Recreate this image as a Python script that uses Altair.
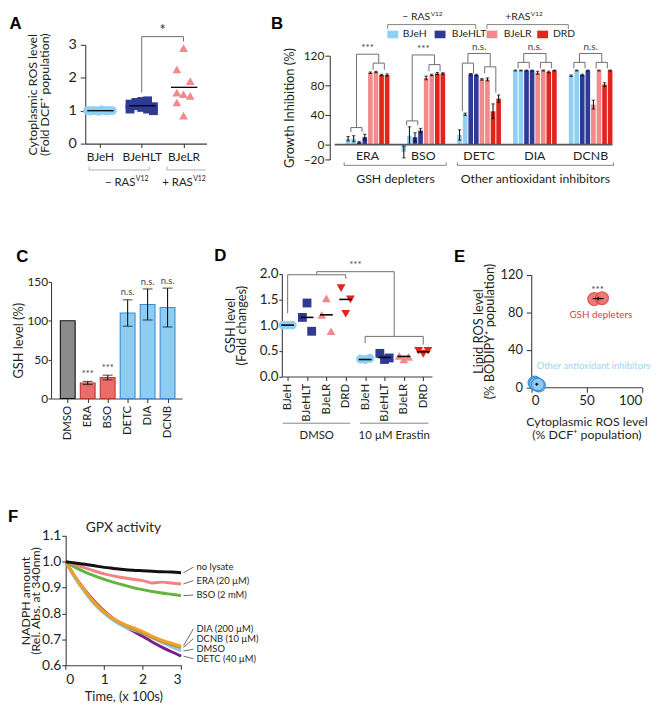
import altair as alt
import pandas as pd

FONT = "Lato"
LFONT = "Liberation Sans"
INK = "#231f20"
AXC = "#3c3c3c"
BRK = "#6f6f6f"
LIGHT = "#8fd0f4"
DARK = "#2e3a93"
PINK = "#f28a8c"
RED = "#e3241c"

# ---------------- Panel A data ----------------
a_cells = ["BJeH", "BJeHLT", "BJeLR"]
a_bjeh = [1.0, 0.99, 1.01, 1.0, 0.98, 1.02, 1.0, 0.99, 1.01, 1.0]
a_bjehlt = [1.05, 1.25, 1.1, 1.3, 1.0, 1.2, 1.15, 1.28, 1.05, 1.12]
a_bjelr = [2.25, 2.9, 1.9, 1.55, 1.5, 1.45, 1.25, 0.85]
a_mean = [1.0, 1.15, 1.71]
a_ticks = [0, 1, 2, 3]

# ---------------- Panel B data ----------------
b_drugs = ["ERA", "BSO", "DETC", "DIA", "DCNB"]
b_lines = ["BJeH", "BJeHLT", "BJeLR", "DRD"]
b_era = [8, 8, 3, 10, 97, 98, 94, 94]
b_era_err = [3, 4, 1, 4, 1, 1, 1, 1.5]
b_bso = [-10, 12, 10, 19, 90, 94, 96, 96]
b_bso_err = [8, 12, 6, 3, 2.5, 1, 1.5, 1]
b_detc = [13, 41, 95, 94, 88, 88, 45, 62]
b_detc_err = [7, 1.5, 1, 1, 1, 2, 10, 5]
b_dia = [100, 100, 100, 100, 97, 100, 98, 100]
b_dia_err = [0.6, 0.6, 0.6, 0.6, 2, 0.6, 1.2, 0.6]
b_dcnb = [93, 100, 94, 100, 54, 100, 81, 100]
b_dcnb_err = [1, 0.6, 1, 0.6, 6, 0.6, 2.5, 0.6]
b_sig = ["***", "***", "n.s.", "n.s.", "n.s."]
b_ticks = [-20, 0, 40, 80, 120]

# ---------------- Panel C data ----------------
c_treat = ["DMSO", "ERA", "BSO", "DETC", "DIA", "DCNB"]
c_kind = ["control", "depleter", "depleter", "other", "other", "other"]
c_vals = [100, 20, 27, 110, 121, 117]
c_err = [0, 2, 3, 17, 20, 25]
c_sig = ["", "***", "***", "n.s.", "n.s.", "n.s."]
c_ticks = [0, 50, 100, 150]

# ---------------- Panel D data ----------------
d_cells = ["BJeH", "BJeHLT", "BJeLR", "DRD", "BJeH", "BJeHLT", "BJeLR", "DRD"]
d_dmso_bjeh = [1.0, 1.0, 1.0]
d_dmso_bjehlt = [1.15, 1.43, 0.88]
d_dmso_bjelr = [1.2, 1.52, 0.88]
d_dmso_drd = [1.72, 1.22, 1.5]
d_era_bjeh = [0.34, 0.33, 0.35]
d_era_bjehlt = [0.45, 0.33, 0.36]
d_era_bjelr = [0.4, 0.33, 0.38]
d_era_drd = [0.5, 0.44, 0.5]
d_mean = [1.0, 1.15, 1.2, 1.5, 0.33, 0.37, 0.39, 0.48]
d_ticks = [0, 0.5, 1.0, 1.5, 2.0]

# ---------------- Panel E data ----------------
e_gsh_x = [57, 64]
e_gsh_y = [94, 95]
e_oth_x = [3, 5, 7, 4, 6]
e_oth_y = [5, 3, 2, 4, 3]

# ---------------- Panel F data ----------------
f_t = [0, 0.25, 0.5, 0.75, 1.0, 1.25, 1.5, 1.75, 2.0, 2.25, 2.5, 2.75, 3.0]
f_nolysate = [1.0, 0.995, 0.99, 0.984, 0.978, 0.974, 0.97, 0.967, 0.965, 0.963, 0.961, 0.96, 0.957]
f_era = [1.0, 0.988, 0.976, 0.964, 0.953, 0.945, 0.938, 0.932, 0.927, 0.918, 0.921, 0.918, 0.914]
f_bso = [1.0, 0.978, 0.96, 0.945, 0.932, 0.92, 0.91, 0.9, 0.892, 0.885, 0.879, 0.874, 0.869]
f_dia = [1.0, 0.94, 0.888, 0.842, 0.806, 0.78, 0.76, 0.745, 0.73, 0.712, 0.697, 0.685, 0.674]
f_dcnb = [1.0, 0.94, 0.887, 0.841, 0.805, 0.778, 0.757, 0.74, 0.725, 0.708, 0.692, 0.68, 0.668]
f_dmso = [1.0, 0.935, 0.882, 0.836, 0.8, 0.772, 0.75, 0.737, 0.724, 0.706, 0.688, 0.671, 0.655]
f_detc = [1.0, 0.94, 0.89, 0.846, 0.809, 0.779, 0.753, 0.732, 0.712, 0.69, 0.67, 0.652, 0.635]
f_names = ["no lysate", "ERA (20 µM)", "BSO (2 mM)", "DIA (200 µM)", "DCNB (10 µM)", "DMSO", "DETC (40 µM)"]
f_ticks_x = [0, 1, 2, 3]
f_ticks_y = [0.6, 0.7, 0.8, 0.9, 1.0, 1.1]

# ---------------- canvas layout (one shared plot area, each panel gets its own scale ranges) ----------------
W, H = 660, 699
ROW_SHIFT = {1: 0, 2: -7, 3: -15}


def px(v):
    return (v - 2) * 0.99


def py(v, row):
    return v + ROW_SHIFT[row]


def xscale(dom, r0, r1):
    return alt.Scale(domain=dom, range=[px(r0), px(r1)], nice=False, zero=False)


def yscale(dom, r0, r1, row):
    return alt.Scale(domain=dom, range=[py(r0, row), py(r1, row)], nice=False, zero=False)


def left_axis(at, r0, r1, row, title_dx, **kw):
    # title centred title_dx pixels left of the axis line, vertically centred on the panel
    return alt.Axis(orient="left", offset=-px(at), titleX=title_dx * 0.99,
                    titleY=(py(r0, row) + py(r1, row)) / 2, titleAngle=270, titleAlign="center",
                    titleBaseline="middle", **kw)


def bottom_axis(at, row, **kw):
    return alt.Axis(orient="bottom", offset=py(at, row) - H, **kw)


# ---------------- helpers ----------------
def enc(scale, axis):
    def make_x(field):
        return alt.X(field, type="quantitative", scale=scale, axis=axis)
    return make_x


def ency(scale, axis):
    def make_y(field):
        return alt.Y(field, type="quantitative", scale=scale, axis=axis)
    return make_y


def seg_layer(seg_list, X, Y, color=BRK, width=1.0):
    df = pd.DataFrame(seg_list, columns=["x", "y", "x2", "y2"])
    return alt.Chart(df).mark_rule(color=color, strokeWidth=width).encode(
        x=X("x"), y=Y("y"), x2="x2:Q", y2="y2:Q")


def text_layer(items, X, Y, **mk):
    df = pd.DataFrame(items, columns=["x", "y", "t"])
    opts = dict(font=FONT)
    opts.update(mk)
    return alt.Chart(df).mark_text(**opts).encode(x=X("x"), y=Y("y"), text="t:N")


def letter(t, x, y, X, Y):
    return text_layer([(x, y, t)], X, Y, font=LFONT, fontSize=17, fontWeight="bold", align="left",
                      baseline="middle", color="#000")


def lbl_expr(names):
    return "[" + ",".join("'" + n + "'" for n in names) + "][datum.value]"


# ================= Panel A =================
AX = enc(xscale([-0.35, 2.55], 81, 205),
         bottom_axis(133, 1, values=[0, 1, 2], labelExpr=lbl_expr(a_cells), title=None,
                     labelFontSize=12, tickSize=4, labelPadding=4))
AY = ency(yscale([0, 3], 133, 33, 1),
          left_axis(81, 133, 33, 1, -53.5, values=a_ticks, title=["Cytoplasmic ROS level", "(Fold DCF⁺ population)"],
                    labelFontSize=14.5, titleFontSize=12.5, titleLineHeight=11.6, tickSize=5, labelPadding=4))
a_rows = []
for ci, (vals, step, width) in enumerate(zip([a_bjeh, a_bjehlt, a_bjelr], [0.066, 0.14, 0.16], [10, 5, 3])):
    for i, v in enumerate(vals):
        a_rows.append({"cell": a_cells[ci], "x": ci + ((i % width) - (width - 1) / 2) * step, "y": v})
a_df = pd.DataFrame(a_rows)
a_pts = alt.Chart(a_df).mark_point(filled=True, opacity=1, size=80).encode(
    x=AX("x"), y=AY("y"),
    shape=alt.Shape("cell:N", scale=alt.Scale(domain=a_cells, range=["circle", "square", "triangle-up"]), legend=None),
    color=alt.Color("cell:N", scale=alt.Scale(domain=a_cells, range=[LIGHT, DARK, PINK]), legend=None),
)
a_means = seg_layer([(i - 0.3, m, i + 0.33, m) for i, m in enumerate(a_mean)], AX, AY, color="#000", width=1.3)
a_sig = seg_layer([(1, 1.55, 1, 3.25), (1, 3.25, 2, 3.25), (2, 3.25, 2, 3.1)], AX, AY)
a_star = text_layer([(1.5, 3.45, "*")], AX, AY, fontSize=15, color="#333")
a_ras = seg_layer([(-0.257, -0.8, 1.178, -0.8), (-0.257, -0.8, -0.257, -0.7), (1.178, -0.8, 1.178, -0.7),
                   (1.603, -0.8, 2.53, -0.8), (1.603, -0.8, 1.603, -0.7)], AX, AY, color="#9a9a9a", width=0.8)
a_ras_t = text_layer([(0.85, -1.2, "− RAS"), (2.22, -1.2, "+ RAS")], AX, AY, fontSize=11.5, align="right",
                     baseline="middle", color=INK)
a_ras_s = text_layer([(0.86, -1.2, "V12"), (2.23, -1.2, "V12")], AX, AY, fontSize=7, align="left",
                     baseline="middle", dy=-4, color=INK)
a_let = letter("A", -2.164, 3.62, AX, AY)
panelA = alt.layer(a_pts, a_means, a_sig, a_star, a_ras, a_ras_t, a_ras_s, a_let)

# ================= Panel B =================
BX = enc(xscale([-2.4, 47.4], 331, 625), None)
BY = ency(yscale([-20, 120], 149, 44, 1),
          left_axis(331, 149, 44, 1, -41, values=b_ticks, title="Growth Inhibition (%)",
                    labelFontSize=12, titleFontSize=13, tickSize=5, labelPadding=1))
b_color = alt.Color("line:N", scale=alt.Scale(domain=b_lines, range=[LIGHT, DARK, PINK, RED]), legend=None)
b_rows = []
for gi, (vals, errs) in enumerate(zip([b_era, b_bso, b_detc, b_dia, b_dcnb],
                                      [b_era_err, b_bso_err, b_detc_err, b_dia_err, b_dcnb_err])):
    for s in range(8):
        b_rows.append({"x": gi * 10 + s, "line": b_lines[s // 2], "y": vals[s],
                       "lo": vals[s] - errs[s], "hi": vals[s] + errs[s]})
b_df = pd.DataFrame(b_rows)
b_bars = alt.Chart(b_df).mark_bar(size=4.7).encode(x=BX("x"), y=BY("y"), y2=alt.datum(0), color=b_color)
b_err = alt.Chart(b_df).mark_rule(color="#000", strokeWidth=1).encode(x=BX("x"), y=BY("lo"), y2="hi:Q")
b_cap_lo = alt.Chart(b_df).mark_tick(color="#000", orient="horizontal", size=3.5, thickness=1).encode(
    x=BX("x"), y=BY("lo"))
b_cap_hi = alt.Chart(b_df).mark_tick(color="#000", orient="horizontal", size=3.5, thickness=1).encode(
    x=BX("x"), y=BY("hi"))
# significance brackets: [left comb, left legs, right comb, right legs, top]
b_brackets = [
    [23, 17, 17, 110, 101, 101, 122],
    [32, 26, 26, 108, 99, 99, 121],
    [110, 45, 96, 105, 96, 70, 123],
    [111, 103, 103, 111, 103, 103, 123],
    [111, 103, 103, 111, 103, 103, 123],
]
b_segs = []
b_sig_t = []
for gi, (hl, l1, l2, hr, r1, r2, top) in enumerate(b_brackets):
    b0 = gi * 10
    b_segs += [(b0 + 0.5, hl, b0 + 2.5, hl), (b0 + 0.5, hl, b0 + 0.5, l1), (b0 + 2.5, hl, b0 + 2.5, l2),
               (b0 + 1.5, hl, b0 + 1.5, top),
               (b0 + 4.5, hr, b0 + 6.5, hr), (b0 + 4.5, hr, b0 + 4.5, r1), (b0 + 6.5, hr, b0 + 6.5, r2),
               (b0 + 5.5, hr, b0 + 5.5, top), (b0 + 1.5, top, b0 + 5.5, top)]
    b_sig_t.append((b0 + 3.5, top + 2, b_sig[gi]))
b_brk = seg_layer(b_segs, BX, BY)
b_sigtxt = text_layer(b_sig_t, BX, BY, fontSize=10, baseline="bottom", color="#444")
b_zero = seg_layer([(-2.4, 0, 47.4, 0)], BX, BY, color="#555", width=1.6)
b_grp = text_layer([(gi * 10 + 3.5, -15, d) for gi, d in enumerate(b_drugs)], BX, BY, fontSize=12.5,
                   baseline="middle", color=INK)
b_cls = seg_layer([(-0.7, -28, 17.6, -28), (-0.7, -28, -0.7, -24), (17.6, -28, 17.6, -24),
                   (19.6, -28, 47.6, -28), (19.6, -28, 19.6, -24), (47.6, -28, 47.6, -24)],
                  BX, BY, color="#777", width=0.9)
b_cls_t = text_layer([(8.5, -47, "GSH depleters"), (33.6, -47, "Other antioxidant inhibitors")], BX, BY,
                     fontSize=12.5, baseline="middle", color=INK)
b_ras = seg_layer([(7.1, 162, 22.9, 162), (7.1, 162, 7.1, 156), (22.9, 162, 22.9, 156),
                   (24.9, 162, 39.5, 162), (24.9, 162, 24.9, 156), (39.5, 162, 39.5, 156)],
                  BX, BY, color="#777", width=0.9)
b_ras_t = text_layer([(14.72, 172, "− RAS"), (32.68, 172, "+RAS")], BX, BY, fontSize=10.5, align="right",
                     baseline="middle", color=INK)
b_ras_s = text_layer([(14.82, 172, "V12"), (32.78, 172, "V12")], BX, BY, fontSize=6.5, align="left",
                     baseline="middle", dy=-3.5, color=INK)
b_leg_df = pd.DataFrame({"line": b_lines, "x": [8.02, 16.5, 25.8, 34.9], "tx": [9.8, 18.6, 27.9, 36.75],
                         "y": [148.7] * 4})
b_leg_sym = alt.Chart(b_leg_df).mark_point(shape="M-1,-0.7H1V0.7H-1Z", filled=True, opacity=1, size=121).encode(
    x=BX("x"), y=BY("y"), color=b_color)
b_leg_txt = alt.Chart(b_leg_df).mark_text(font=FONT, fontSize=10.5, align="left", baseline="middle",
                                          color=INK).encode(x=BX("tx"), y=BY("y"), text="line:N")
b_let = letter("B", -13.84, 162.7, BX, BY)
panelB = alt.layer(b_bars, b_err, b_cap_lo, b_cap_hi, b_brk, b_sigtxt, b_zero, b_grp, b_cls, b_cls_t,
                   b_ras, b_ras_t, b_ras_s, b_leg_sym, b_leg_txt, b_let)

# ================= Panel C =================
CX = enc(xscale([-0.59, 5.48], 46, 180),
         bottom_axis(398, 2, values=list(range(6)), labelExpr=lbl_expr(c_treat), title=None, labelAngle=270,
                     labelAlign="right", labelBaseline="middle", labelFontSize=11.5, tickSize=4, labelPadding=3))
CY = ency(yscale([0, 150], 398, 280, 2),
          left_axis(46, 398, 280, 2, -33, values=c_ticks, title="GSH level (%)", labelFontSize=12,
                    titleFontSize=13, tickSize=3, labelPadding=0.5))
c_df = pd.DataFrame({"x": list(range(6)), "kind": c_kind, "y": c_vals,
                     "lo": [v - e for v, e in zip(c_vals, c_err)],
                     "hi": [v + e for v, e in zip(c_vals, c_err)], "sig": c_sig,
                     "sy": [v + e + 3 for v, e in zip(c_vals, c_err)]})
kinds = ["control", "depleter", "other"]
c_bars = alt.Chart(c_df).mark_bar(size=15, strokeWidth=1.1).encode(
    x=CX("x"), y=CY("y"), y2=alt.datum(0),
    fill=alt.Fill("kind:N", scale=alt.Scale(domain=kinds, range=["#8c8b8b", "#ee6b6b", "#8ecdf2"]), legend=None),
    stroke=alt.Stroke("kind:N", scale=alt.Scale(domain=kinds, range=["#111111", "#c0392f", "#3b8fd0"]), legend=None),
)
c_e = c_df[c_df["lo"] < c_df["hi"]]
c_err_r = alt.Chart(c_e).mark_rule(color="#111", strokeWidth=1.1).encode(x=CX("x"), y=CY("lo"), y2="hi:Q")
c_cap_lo = alt.Chart(c_e).mark_tick(color="#111", orient="horizontal", size=10, thickness=1.1).encode(
    x=CX("x"), y=CY("lo"))
c_cap_hi = alt.Chart(c_e).mark_tick(color="#111", orient="horizontal", size=10, thickness=1.1).encode(
    x=CX("x"), y=CY("hi"))
c_sigt = alt.Chart(c_e).mark_text(font=FONT, fontSize=9.5, baseline="bottom", color="#444").encode(
    x=CX("x"), y=CY("sy"), text="sig:N")
c_let = letter("C", -2.583, 181.4, CX, CY)
panelC = alt.layer(c_bars, c_err_r, c_cap_lo, c_cap_hi, c_sigt, c_let)

# ================= Panel D =================
DX = enc(xscale([-0.3, 7.45], 282, 435.5),
         bottom_axis(375.7, 2, values=list(range(8)), labelExpr=lbl_expr(d_cells), title=None,
                     labelAngle=270, labelFontSize=11.5, tickSize=4, labelPadding=3,
                     labelAlign="right", labelBaseline="middle"))
DY = ency(yscale([0, 2], 375.7, 271.7, 2),
          left_axis(282, 375.7, 271.7, 2, -52, values=d_ticks, format=".1f", title=["GSH level", "(Fold changes)"],
                    labelFontSize=13.5, titleFontSize=13, titleLineHeight=10.5, tickSize=3, labelPadding=1))
d_groups = [d_dmso_bjeh, d_dmso_bjehlt, d_dmso_bjelr, d_dmso_drd, d_era_bjeh, d_era_bjehlt, d_era_bjelr, d_era_drd]
d_rows = []
for ci, vals in enumerate(d_groups):
    for i, v in enumerate(vals):
        d_rows.append({"cell": d_cells[ci], "x": ci + ((i % 3) - 1) * 0.24, "y": v})
d_df = pd.DataFrame(d_rows)
d_sh = ["BJeH", "BJeHLT", "BJeLR", "DRD"]
d_pts = alt.Chart(d_df).mark_point(filled=True, opacity=1, size=80).encode(
    x=DX("x"), y=DY("y"),
    shape=alt.Shape("cell:N", scale=alt.Scale(domain=d_sh, range=["circle", "square", "triangle-up", "triangle-down"]),
                    legend=None),
    color=alt.Color("cell:N", scale=alt.Scale(domain=d_sh, range=[LIGHT, DARK, PINK, RED]), legend=None),
)
d_means = seg_layer([(i - 0.33, m, i + 0.33, m) for i, m in enumerate(d_mean)], DX, DY, color="#000", width=1.6)
d_brk = seg_layer([(0, 1.23, 0, 1.98), (0, 1.98, 3, 1.98), (3, 1.98, 3, 1.9), (1.5, 1.98, 1.5, 2.04),
                   (1.5, 2.04, 5.5, 2.04), (5.5, 2.04, 5.5, 0.78), (4, 0.78, 7, 0.78), (4, 0.78, 4, 0.65),
                   (7, 0.78, 7, 0.62)], DX, DY)
d_star = text_layer([(3.5, 2.07, "***")], DX, DY, fontSize=10, baseline="bottom", color="#555")
d_under = seg_layer([(-0.25, -0.91, 3.23, -0.91), (3.74, -0.91, 7.27, -0.91)], DX, DY, color="#777", width=0.9)
d_under_t = text_layer([(1.5, -1.15, "DMSO"), (5.5, -1.15, "10 µM Erastin")], DX, DY, fontSize=11.5,
                       baseline="middle", color=INK)
d_let = letter("D", -3.783, 2.346, DX, DY)
panelD = alt.layer(d_pts, d_means, d_brk, d_star, d_under, d_under_t, d_let)

# ================= Panel E =================
EX = enc(xscale([0, 100], 537, 650),
         bottom_axis(386.7, 2, values=[0, 50, 100], title=["Cytoplasmic ROS level", "(% DCF⁺ population)"],
                     labelFontSize=13.5, titleFontSize=12.5, titleLineHeight=13.5, tickSize=5, labelPadding=1,
                     titleX=(px(537) + px(650)) / 2, titleY=34.8, titleAlign="center", titleBaseline="middle"))
EY = ency(yscale([0, 120], 386.7, 272.7, 2),
          left_axis(537, 386.7, 272.7, 2, -53.7, values=[0, 40, 80, 120],
                    title=["Lipid ROS level", "(% BODIPY⁺ population)"],
                    labelFontSize=13, titleFontSize=13, titleLineHeight=10.5, tickSize=5, labelPadding=4))
e_df = pd.DataFrame({"x": e_gsh_x + e_oth_x, "y": e_gsh_y + e_oth_y,
                     "grp": ["GSH"] * len(e_gsh_x) + ["other"] * len(e_oth_x)})
e_pts = alt.Chart(e_df).mark_circle(size=170, opacity=0.9, strokeWidth=1.2).encode(
    x=EX("x"), y=EY("y"),
    fill=alt.Fill("grp:N", scale=alt.Scale(domain=["GSH", "other"], range=["#ee6b6b", "#8ecdf2"]), legend=None),
    stroke=alt.Stroke("grp:N", scale=alt.Scale(domain=["GSH", "other"], range=["#d84848", "#3a8ad0"]), legend=None),
)
e_mean = seg_layer([(55.5, 94.5, 65.5, 94.5), (60.5, 92.5, 60.5, 96.5), (3.5, 3.4, 6.5, 3.4), (5, 1.8, 5, 5)],
                   EX, EY, color="#000", width=1.1)
e_star = text_layer([(60, 104, "***")], EX, EY, fontSize=10, baseline="middle", color="#444")
e_lab1 = text_layer([(63, 77.5, "GSH depleters")], EX, EY, fontSize=10, baseline="middle", color="#e03c3c")
e_lab2 = text_layer([(5, 23, "Other antioxidant inhibitors")], EX, EY, fontSize=9.5, baseline="middle",
                    color="#9fd3f0", align="left")
e_let = letter("E", -69.9, 138.4, EX, EY)
panelE = alt.layer(e_pts, e_mean, e_star, e_lab1, e_lab2, e_let)

# ================= Panel F =================
FX = enc(xscale([0, 3], 61, 179),
         bottom_axis(676, 3, values=f_ticks_x, title="Time, (x 100s)", labelFontSize=14,
                     titleFontSize=13, tickSize=4, labelPadding=3,
                     titleX=(px(61) + px(179)) / 2, titleY=32, titleAlign="center", titleBaseline="middle"))
FY = ency(yscale([0.6, 1.1], 676, 545, 3),
          left_axis(61, 676, 545, 3, -41, values=f_ticks_y, format=".1f",
                    title=["NADPH amount", "(Rel. Abs. at 340nm)"],
                    labelFontSize=14, titleFontSize=12.5, titleLineHeight=10.5, tickSize=4, labelPadding=1))
f_series = [(f_detc, "#7b1f86"), (f_dmso, "#8ccbee"), (f_dcnb, "#b8902e"), (f_dia, "#f3a02a"),
            (f_bso, "#64b53f"), (f_era, "#f08484"), (f_nolysate, "#111111")]
f_layers = []
for vals, col in f_series:
    df = pd.DataFrame({"x": f_t, "y": vals})
    f_layers.append(alt.Chart(df).mark_line(color=col, strokeWidth=3, interpolate="monotone").encode(
        x=FX("x"), y=FY("y")))
f_label_y = [0.979, 0.927, 0.871, 0.741, 0.703, 0.662, 0.625]
f_end = [f_nolysate[-1], f_era[-1], f_bso[-1], f_dia[-1], f_dcnb[-1], f_dmso[-1], f_detc[-1]]
f_lead = seg_layer([(3.06, e, 3.32, ly) for e, ly in zip(f_end, f_label_y)], FX, FY, color="#444", width=0.8)
f_txt = text_layer([(3.4, ly, nm) for ly, nm in zip(f_label_y, f_names)], FX, FY, fontSize=9.5, align="left",
                   baseline="middle", color=INK)
f_title = text_layer([(1.5, 1.129, "GPX activity")], FX, FY, fontSize=14, baseline="middle", color=INK)
f_let = letter("F", -1.5, 1.172, FX, FY)
panelF = alt.layer(*f_layers, f_lead, f_txt, f_title, f_let)

chart = alt.layer(panelA, panelB, panelC, panelD, panelE, panelF).resolve_scale(
    x="independent", y="independent", color="independent", shape="independent", fill="independent",
    stroke="independent"
).resolve_axis(x="independent", y="independent").properties(
    width=W, height=H, autosize=alt.AutoSizeParams(type="none"), padding=0
).configure_view(stroke=None).configure_axis(
    grid=False, domainColor=AXC, tickColor=AXC, labelColor=INK, titleColor=INK, labelFont=FONT, titleFont=FONT,
    titleFontWeight="normal", domainWidth=1.1, tickWidth=1.1
).configure_text(font=FONT)

chart.save("out.html", embed_options={"renderer": "svg", "actions": False})
